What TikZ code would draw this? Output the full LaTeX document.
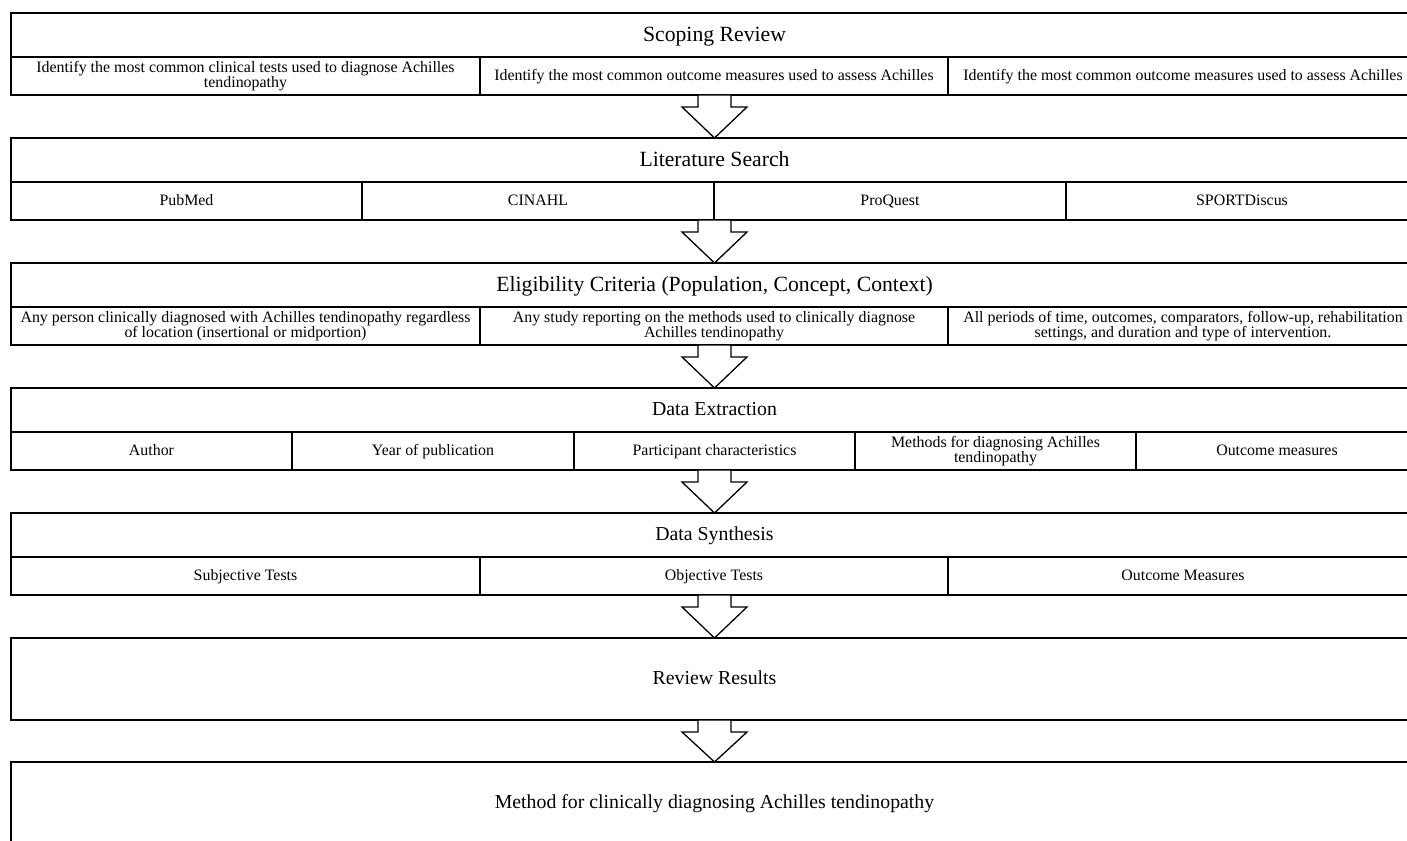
\documentclass[tikz,border=0pt]{standalone}
\usepackage{fontspec}
\setmainfont{Liberation Serif}
\usetikzlibrary{calc}
\newcommand{\mystrut}{\vrule height 0.8em depth 0.2em width 0pt\relax}
\tikzset{
  x=1pt, y=-1pt,
  boxline/.style={draw=black, line width=1.8pt, outer sep=0pt, inner sep=0pt,
    execute at begin node=\mystrut, execute at end node=\mystrut},
  titlebox/.style={boxline, minimum width=1407pt, minimum height=44pt, anchor=north west, font=\fontsize{21.7}{24}\selectfont},
  titleboxs/.style={titlebox, font=\fontsize{19.8}{22}\selectfont},
  cellbox/.style={boxline, minimum height=38pt, anchor=north west, align=center, font=\fontsize{15.9}{15}\selectfont},
  bigbox/.style={boxline, minimum width=1407pt, minimum height=82pt, anchor=north west, font=\fontsize{19.8}{22}\selectfont},
  blockarrow/.style={draw=black, line width=1.3pt, fill=white, line join=miter},
}
\newcommand{\blockarr}[2]{%
  \draw[blockarrow] ($(#1)+(-16.5,0)$) -- ($(#1)+(-16.5,12)$) -- ($(#1)+(-32.5,12)$)
    -- (#2.north) -- ($(#1)+(32.5,12)$) -- ($(#1)+(16.5,12)$) -- ($(#1)+(16.5,0)$) -- cycle;}
\begin{document}
\begin{tikzpicture}
\useasboundingbox (0,0) rectangle (1407,840);
\clip (0,0) rectangle (1407,840);
\fill[white] (0,0) rectangle (1407,840);

% Box 1
\node[titlebox] (t1) at (11,13) {Scoping Review};
\node[cellbox, minimum width=469pt] (c11) at (t1.south west) {Identify the most common clinical tests used to diagnose Achilles\\tendinopathy};
\node[cellbox, minimum width=468pt] (c12) at (c11.north east) {Identify the most common outcome measures used to assess Achilles};
\node[cellbox, minimum width=470pt] (c13) at (c12.north east) {Identify the most common outcome measures used to assess Achilles};
\coordinate (b1) at (t1.south |- c11.south);

% Box 2
\node[titlebox] (t2) at (11,138) {Literature Search};
\node[cellbox, minimum width=351pt] (c21) at (t2.south west) {PubMed};
\node[cellbox, minimum width=352pt] (c22) at (c21.north east) {CINAHL};
\node[cellbox, minimum width=352pt] (c23) at (c22.north east) {ProQuest};
\node[cellbox, minimum width=352pt] (c24) at (c23.north east) {SPORTDiscus};
\coordinate (b2) at (t2.south |- c21.south);

% Box 3
\node[titlebox] (t3) at (11,263) {Eligibility Criteria (Population, Concept, Context)};
\node[cellbox, minimum width=469pt] (c31) at (t3.south west) {Any person clinically diagnosed with Achilles tendinopathy regardless\\of location (insertional or midportion)};
\node[cellbox, minimum width=468pt] (c32) at (c31.north east) {Any study reporting on the methods used to clinically diagnose\\Achilles tendinopathy};
\node[cellbox, minimum width=470pt] (c33) at (c32.north east) {All periods of time, outcomes, comparators, follow-up, rehabilitation\\settings, and duration and type of intervention.};
\coordinate (b3) at (t3.south |- c31.south);

% Box 4
\node[titleboxs] (t4) at (11,388) {Data Extraction};
\node[cellbox, minimum width=281pt] (c41) at (t4.south west) {Author};
\node[cellbox, minimum width=282pt] (c42) at (c41.north east) {Year of publication};
\node[cellbox, minimum width=281pt] (c43) at (c42.north east) {Participant characteristics};
\node[cellbox, minimum width=281pt] (c44) at (c43.north east) {Methods for diagnosing Achilles\\tendinopathy};
\node[cellbox, minimum width=282pt] (c45) at (c44.north east) {Outcome measures};
\coordinate (b4) at (t4.south |- c41.south);

% Box 5
\node[titleboxs] (t5) at (11,513) {Data Synthesis};
\node[cellbox, minimum width=469pt] (c51) at (t5.south west) {Subjective Tests};
\node[cellbox, minimum width=468pt] (c52) at (c51.north east) {Objective Tests};
\node[cellbox, minimum width=470pt] (c53) at (c52.north east) {Outcome Measures};
\coordinate (b5) at (t5.south |- c51.south);

% Box 6
\node[bigbox] (t6) at (11,638) {Review Results};
% Box 7
\node[bigbox] (t7) at (11,762) {Method for clinically diagnosing Achilles tendinopathy};

% Arrows
\blockarr{b1}{t2}
\blockarr{b2}{t3}
\blockarr{b3}{t4}
\blockarr{b4}{t5}
\blockarr{b5}{t6}
\blockarr{t6.south}{t7}
\end{tikzpicture}
\end{document}
